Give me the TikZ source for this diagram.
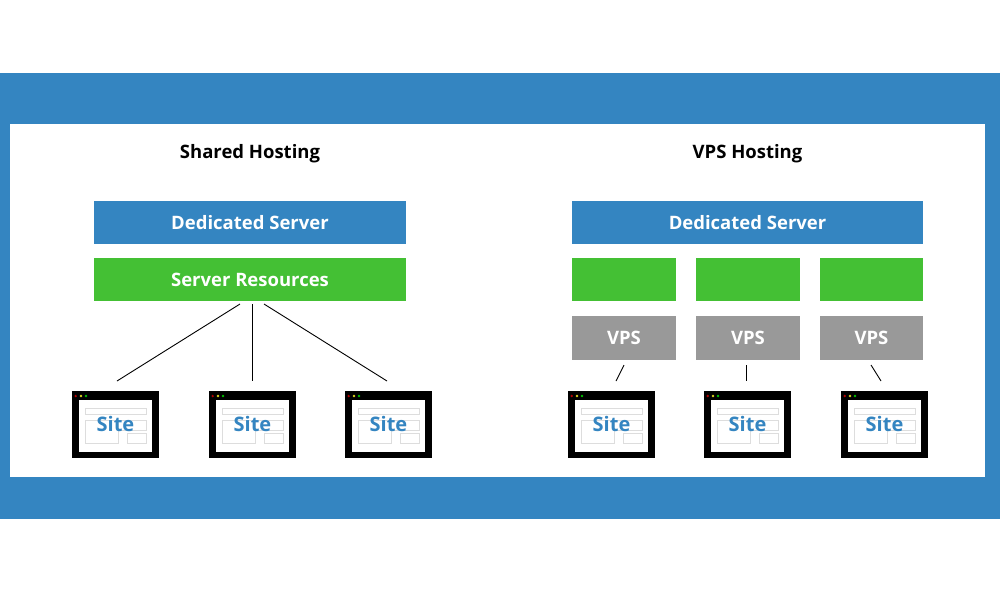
\documentclass[tikz,border=0pt]{standalone}
\usepackage{fontspec}
\setmainfont{Open Sans}
\definecolor{hostblue}{HTML}{3485C1}
\definecolor{hostgreen}{HTML}{44C034}
\definecolor{hostgray}{HTML}{999999}
\definecolor{sitegray}{HTML}{DDDDDD}
\tikzset{
  box/.style={inner sep=0pt, text=white, font=\fontsize{18.5}{23}\selectfont\bfseries},
  bluebox/.style={box, fill=hostblue, minimum height=43},
  greenbox/.style={box, fill=hostgreen, minimum height=43},
  vpsbox/.style={box, fill=hostgray, minimum height=44},
  heading/.style={inner sep=0pt, font=\fontsize{18.5}{22}\selectfont\bfseries},
  wire/.style={line width=0.9pt},
  sitewin/.pic={
    \fill[black] (0,0) rectangle (87,67);
    \fill[white] (7,9) rectangle (80,61);
    \fill[red!70!black] (3.7,5) circle (1.3);
    \fill[yellow!85!black] (9,5) circle (1.3);
    \fill[green!75!black] (14,5) circle (1.3);
    \draw[sitegray, line width=0.8pt] (13,17) rectangle (74,23)
      (13,29) rectangle (46,52)
      (46,29) rectangle (74,39)
      (55,42) rectangle (74,52);
    \node[inner sep=0pt, text=hostblue, font=\fontsize{20}{24}\selectfont\bfseries] (-label) at (43.5,33) {Site};
  }
}
\begin{document}
\begin{tikzpicture}[x=1pt,y=-1pt]
\useasboundingbox (0,0) rectangle (1000,600);
\fill[hostblue] (0,73) rectangle (1000,519);
\fill[white] (10,124) rectangle (985,477);

% shared hosting side
\node[heading] (sharedtitle) at (250,154) {Shared Hosting};
\node[bluebox, minimum width=312] (shareddedicated) at (250,222.5) {Dedicated Server};
\node[greenbox, minimum width=312] (sharedresources) at (250,279.5) {Server Resources};
\pic (sitea) at (72,391) {sitewin};
\pic (siteb) at (209,391) {sitewin};
\pic (sitec) at (345,391) {sitewin};
\coordinate (wireatop) at (240,304);
\coordinate (wirebtop) at (252,304);
\coordinate (wirectop) at (264,304);
\coordinate (wireaend) at (117,381);
\coordinate (wirebend) at (252,381);
\coordinate (wirecend) at (387,381);
\draw[wire] (wireatop) -- (wireaend);
\draw[wire] (wirebtop) -- (wirebend);
\draw[wire] (wirectop) -- (wirecend);

% vps hosting side
\node[heading] (vpstitle) at (747.5,154) {VPS Hosting};
\node[bluebox, minimum width=351] (vpsdedicated) at (747.5,222.5) {Dedicated Server};
\node[greenbox, minimum width=104] (greena) at (624,279.5) {};
\node[greenbox, minimum width=104] (greenb) at (748,279.5) {};
\node[greenbox, minimum width=103] (greenc) at (871.5,279.5) {};
\node[vpsbox, minimum width=104] (vpsa) at (624,338) {VPS};
\node[vpsbox, minimum width=104] (vpsb) at (748,338) {VPS};
\node[vpsbox, minimum width=103] (vpsc) at (871.5,338) {VPS};
\pic (sited) at (568,391) {sitewin};
\pic (sitee) at (704,391) {sitewin};
\pic (sitef) at (841,391) {sitewin};
\coordinate (wiredtop) at (624,365);
\coordinate (wireetop) at (746,365);
\coordinate (wireftop) at (871,365);
\coordinate (wiredend) at (616,381);
\coordinate (wireeend) at (746,381);
\coordinate (wirefend) at (881,381);
\draw[wire] (wiredtop) -- (wiredend);
\draw[wire] (wireetop) -- (wireeend);
\draw[wire] (wireftop) -- (wirefend);
\end{tikzpicture}
\end{document}
